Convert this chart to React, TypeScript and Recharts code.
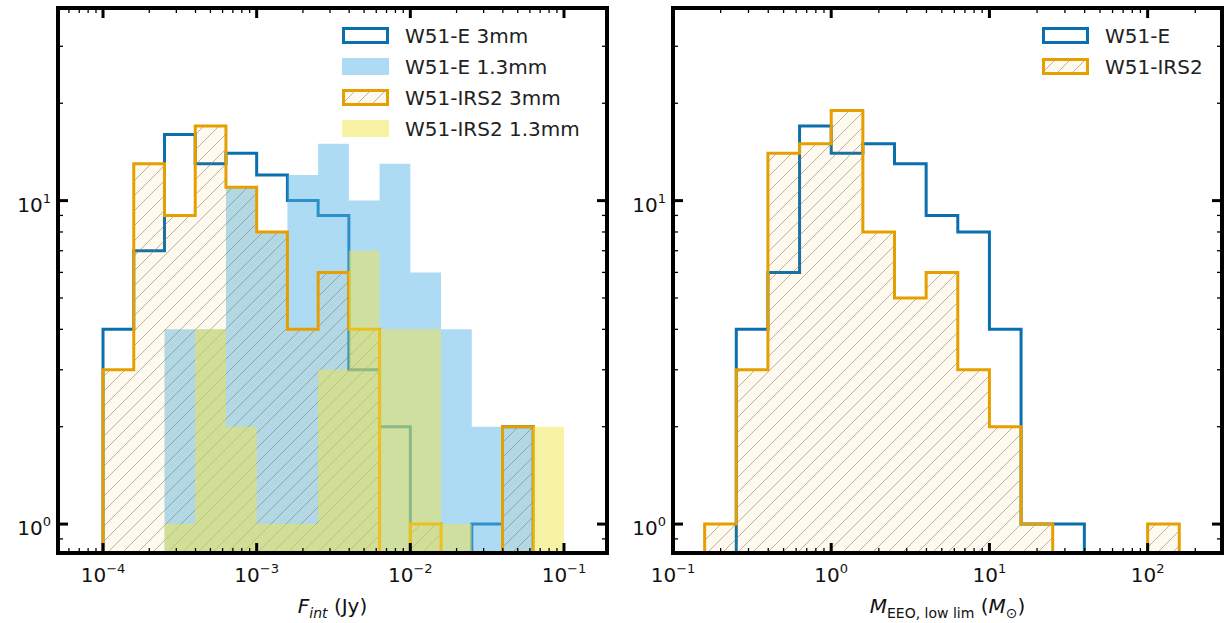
import React from "react"
import { ComposedChart, Area, XAxis, YAxis, Legend } from "recharts"

const FONT = "DejaVu Sans, sans-serif"

// integrated flux histogram, bins are 0.2 dex wide (log10 Jy edges)
const FLUX_BIN_EDGES = [-4.0, -3.8, -3.6, -3.4, -3.2, -3.0, -2.8, -2.6, -2.4, -2.2, -2.0, -1.8, -1.6, -1.4, -1.2, -1.0]
const W51E_3MM = [4, 7, 16, 13, 14, 12, 10, 9, 3, 2, 0, 0, 1, 2, 0]
const W51E_1MM = [0, 0, 4, 4, 11, 8, 12, 15, 10, 13, 6, 4, 2, 2, 0]
const IRS2_3MM = [3, 13, 9, 17, 11, 8, 4, 6, 4, 0, 1, 0, 0, 2, 0]
const IRS2_1MM = [0, 0, 1, 4, 2, 1, 1, 3, 7, 4, 4, 1, 0, 0, 2]

// mass histogram (log10 Msun edges)
const MASS_BIN_EDGES = [-0.8, -0.6, -0.4, -0.2, 0.0, 0.2, 0.4, 0.6, 0.8, 1.0, 1.2, 1.4, 1.6, 1.8, 2.0, 2.2]
const W51E_MASS = [0, 4, 6, 17, 14, 15, 13, 9, 8, 4, 1, 1, 0, 0, 0]
const IRS2_MASS = [1, 3, 14, 15, 19, 8, 5, 6, 3, 2, 1, 0, 0, 0, 1]

// axis decades (tick labels are 10^n)
const FLUX_DECADES = [-5, -4, -3, -2, -1]
const MASS_DECADES = [-1, 0, 1, 2]
const COUNT_DECADES = [-1, 0, 1]
const MINOR_STEPS = [1, 2, 3, 4, 5, 6, 7, 8, 9]

const FLUX_DOMAIN: [number, number] = [10 ** -4.293, 10 ** -0.72]
const MASS_DOMAIN: [number, number] = [10 ** -1.0, 10 ** 2.47]
const COUNT_DOMAIN: [number, number] = [0.814, 39.4]

const BLUE = "#0a6fae"
const LIGHT_BLUE = "#56B4E9"
const ORANGE = "#E69F00"
const YELLOW = "#F0E442"
const FLOOR = 0.3 // stands in for empty bins on the log axis (clipped)

function logTicks(decades: number[], domain: [number, number]) {
  const out: number[] = []
  decades.forEach((d) =>
    MINOR_STEPS.forEach((m) => {
      const v = m * 10 ** d
      if (v >= domain[0] * 0.9999 && v <= domain[1] * 1.0001) out.push(v)
    })
  )
  return out
}

function buildRows(edges: number[], series: Record<string, number[]>) {
  const keys = Object.keys(series)
  const start: any = { x: 10 ** edges[0] }
  keys.forEach((k) => (start[k] = FLOOR))
  const rows: any[] = [start]
  edges.forEach((e, i) => {
    const row: any = { x: 10 ** e }
    keys.forEach((k) => {
      const c = series[k][i]
      row[k] = c > 0 ? c : FLOOR
    })
    rows.push(row)
  })
  return rows
}

const isMajor = (v: number) => Math.abs(Math.log10(v) - Math.round(Math.log10(v))) < 1e-6
const expText = (v: number) => {
  const e = Math.round(Math.log10(v))
  return e < 0 ? `\u2212${-e}` : `${e}`
}

function TickLabel({ x, y, v, anchor }: { x: number; y: number; v: number; anchor: "middle" | "end" }) {
  return (
    <text x={x} y={y} textAnchor={anchor} fontFamily={FONT} fontSize={20} fill="#111">
      10
      <tspan dy={-9} fontSize={13}>
        {expText(v)}
      </tspan>
    </text>
  )
}

const tickStroke = (major: boolean) => ({ stroke: "#000", strokeWidth: major ? 3 : 1.3 })

function BottomTick(props: any) {
  const { x, y, payload } = props
  const major = isMajor(payload.value)
  return (
    <g>
      <line x1={x} x2={x} y1={y} y2={y - (major ? 10 : 5)} {...tickStroke(major)} />
      {major && <TickLabel x={x} y={y + 29} v={payload.value} anchor="middle" />}
    </g>
  )
}

function TopTick(props: any) {
  const { x, y, payload } = props
  const major = isMajor(payload.value)
  return <line x1={x} x2={x} y1={y} y2={y + (major ? 10 : 5)} {...tickStroke(major)} />
}

function LeftTick(props: any) {
  const { x, y, payload } = props
  const major = isMajor(payload.value)
  return (
    <g>
      <line x1={x} x2={x + (major ? 10 : 5)} y1={y} y2={y} {...tickStroke(major)} />
      {major && <TickLabel x={x - 7} y={y + 11} v={payload.value} anchor="end" />}
    </g>
  )
}

function RightTick(props: any) {
  const { x, y, payload } = props
  const major = isMajor(payload.value)
  return <line x1={x} x2={x - (major ? 10 : 5)} y1={y} y2={y} {...tickStroke(major)} />
}

type Kind = "step" | "fill" | "hatch"
interface Series {
  key: string
  name: string
  kind: Kind
  color: string
}

function HatchPattern({ id }: { id: string }) {
  return (
    <pattern id={id} patternUnits="userSpaceOnUse" width={15} height={15}>
      <rect width={15} height={15} fill={ORANGE} fillOpacity={0.06} />
      <path d="M-2,2 L2,-2 M0,15 L15,0 M13,17 L17,13" stroke="#8a7656" strokeOpacity={0.6} strokeWidth={0.9} />
    </pattern>
  )
}

function LegendBox({ items, pid }: { items: Series[]; pid: string }) {
  return (
    <div style={{ fontFamily: FONT, fontSize: 20, color: "#222" }}>
      {items.map((s) => (
        <div key={s.key} style={{ display: "flex", alignItems: "center", height: 31 }}>
          <svg width={47} height={17} style={{ marginRight: 16, flex: "none" }}>
            <defs>
              <HatchPattern id={`${pid}-leg-${s.key}`} />
            </defs>
            {s.kind === "step" && <rect x={1.5} y={1.5} width={44} height={14} fill="#fff" stroke={s.color} strokeWidth={3} />}
            {s.kind === "fill" && <rect x={0} y={0} width={47} height={17} fill={s.color} fillOpacity={0.48} />}
            {s.kind === "hatch" && (
              <rect x={1.5} y={1.5} width={44} height={14} fill={`url(#${pid}-leg-${s.key})`} stroke={s.color} strokeWidth={3} />
            )}
          </svg>
          <span style={{ whiteSpace: "nowrap" }}>{s.name}</span>
        </div>
      ))}
    </div>
  )
}

const FRAME = { stroke: "#000", strokeWidth: 4, strokeLinecap: "square" as const }

interface PanelProps {
  pid: string
  rows: any[]
  series: Series[]
  xDomain: [number, number]
  xTicks: number[]
  legendLeft: number
  title: (cx: number, y: number) => React.ReactNode
}

function HistPanel({ pid, rows, series, xDomain, xTicks, legendLeft, title }: PanelProps) {
  const yTicks = logTicks(COUNT_DECADES, COUNT_DOMAIN)
  const xTitle = (p: any) => {
    const vb = p.viewBox || { x: 58, y: 553, width: 549 }
    return title(vb.x + vb.width / 2, vb.y + 60)
  }
  return (
    <ComposedChart width={615} height={623} data={rows} margin={{ top: 7, right: 0, bottom: 30, left: 8 }}>
      <defs>
        <HatchPattern id={`${pid}-hatch`} />
      </defs>
      <XAxis
        dataKey="x"
        type="number"
        scale="log"
        domain={xDomain}
        allowDataOverflow
        ticks={xTicks}
        interval={0}
        tickSize={0}
        tickMargin={0}
        tickLine={false}
        tick={BottomTick}
        axisLine={FRAME}
        height={40}
        label={xTitle}
      />
      <XAxis
        xAxisId="top"
        orientation="top"
        dataKey="x"
        type="number"
        scale="log"
        domain={xDomain}
        allowDataOverflow
        ticks={xTicks}
        interval={0}
        tickSize={0}
        tickMargin={0}
        tickLine={false}
        tick={TopTick}
        axisLine={FRAME}
        height={1}
      />
      <YAxis
        type="number"
        scale="log"
        domain={COUNT_DOMAIN}
        allowDataOverflow
        ticks={yTicks}
        interval={0}
        tickSize={0}
        tickMargin={0}
        tickLine={false}
        tick={LeftTick}
        axisLine={FRAME}
        width={50}
      />
      <YAxis
        yAxisId="right"
        orientation="right"
        type="number"
        scale="log"
        domain={COUNT_DOMAIN}
        allowDataOverflow
        ticks={yTicks}
        interval={0}
        tickSize={0}
        tickMargin={0}
        tickLine={false}
        tick={RightTick}
        axisLine={FRAME}
        width={8}
      />
      {series.map((s) => (
        <Area
          key={s.key}
          dataKey={s.key}
          name={s.name}
          type="stepAfter"
          stroke={s.kind === "fill" ? "none" : s.color}
          strokeWidth={3}
          strokeLinejoin="miter"
          fill={s.kind === "fill" ? s.color : s.kind === "hatch" ? `url(#${pid}-hatch)` : "none"}
          fillOpacity={s.kind === "fill" ? 0.48 : 1}
          dot={false}
          activeDot={false}
          isAnimationActive={false}
        />
      ))}
      <Legend
        layout="vertical"
        align="center"
        verticalAlign="middle"
        wrapperStyle={{ top: 20, left: legendLeft, width: "auto", height: "auto" }}
        content={() => <LegendBox items={series} pid={pid} />}
      />
    </ComposedChart>
  )
}

const FLUX_SERIES: Series[] = [
  { key: "e3", name: "W51-E 3mm", kind: "step", color: BLUE },
  { key: "e1", name: "W51-E 1.3mm", kind: "fill", color: LIGHT_BLUE },
  { key: "i3", name: "W51-IRS2 3mm", kind: "hatch", color: ORANGE },
  { key: "i1", name: "W51-IRS2 1.3mm", kind: "fill", color: YELLOW },
]

const MASS_SERIES: Series[] = [
  { key: "e", name: "W51-E", kind: "step", color: BLUE },
  { key: "i", name: "W51-IRS2", kind: "hatch", color: ORANGE },
]

export default function App() {
  const fluxRows = buildRows(FLUX_BIN_EDGES, { e3: W51E_3MM, e1: W51E_1MM, i3: IRS2_3MM, i1: IRS2_1MM })
  const massRows = buildRows(MASS_BIN_EDGES, { e: W51E_MASS, i: IRS2_MASS })

  return (
    <div style={{ position: "absolute", left: 0, top: 0, width: 1231, height: 623, background: "#fff", overflow: "hidden" }}>
      <div style={{ position: "absolute", left: 0, top: 0 }}>
        <HistPanel
          pid="flux"
          rows={fluxRows}
          series={FLUX_SERIES}
          xDomain={FLUX_DOMAIN}
          xTicks={logTicks(FLUX_DECADES, FLUX_DOMAIN)}
          legendLeft={342}
          title={(cx, y) => (
            <text x={cx} y={y} textAnchor="middle" fontFamily={FONT} fontSize={20} fill="#111">
              <tspan fontStyle="italic">F</tspan>
              <tspan dy={5} fontSize={14} fontStyle="italic">
                int
              </tspan>
              <tspan dy={-5}>{" (Jy)"}</tspan>
            </text>
          )}
        />
      </div>
      <div style={{ position: "absolute", left: 615, top: 0 }}>
        <HistPanel
          pid="mass"
          rows={massRows}
          series={MASS_SERIES}
          xDomain={MASS_DOMAIN}
          xTicks={logTicks(MASS_DECADES, MASS_DOMAIN)}
          legendLeft={427}
          title={(cx, y) => (
            <text x={cx} y={y} textAnchor="middle" fontFamily={FONT} fontSize={20} fill="#111">
              <tspan fontStyle="italic">M</tspan>
              <tspan dy={5} fontSize={14}>
                EEO, low lim
              </tspan>
              <tspan dy={-5}>{" ("}</tspan>
              <tspan fontStyle="italic">M</tspan>
              <tspan dy={5} fontSize={14}>
                {"\u2299"}
              </tspan>
              <tspan dy={-5}>)</tspan>
            </text>
          )}
        />
      </div>
    </div>
  )
}
